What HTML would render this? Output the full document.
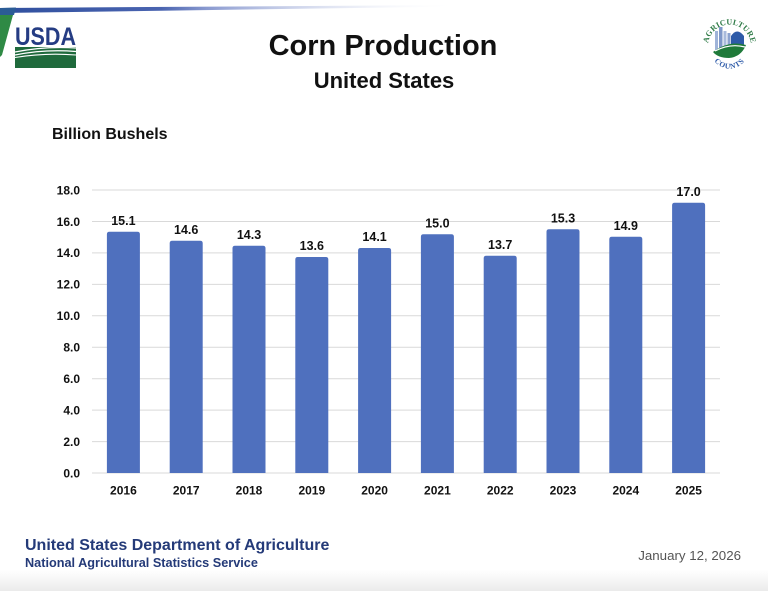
<!DOCTYPE html>
<html>
<head>
<meta charset="utf-8">
<style>
html,body{margin:0;padding:0;background:#fff;}
body{width:768px;height:591px;overflow:hidden;position:relative;font-family:"Liberation Sans",sans-serif;}
svg{position:absolute;left:0;top:0;}
</style>
</head>
<body>
<svg width="768" height="591" viewBox="0 0 768 591" xmlns="http://www.w3.org/2000/svg">
  <defs>
    <linearGradient id="topline" x1="0" y1="0" x2="1" y2="0">
      <stop offset="0" stop-color="#2f4f9e"/>
      <stop offset="0.35" stop-color="#4a64b0"/>
      <stop offset="0.45" stop-color="#8a9ad0"/>
      <stop offset="1" stop-color="#ffffff" stop-opacity="0"/>
    </linearGradient>
    <linearGradient id="botgrad" x1="0" y1="0" x2="0" y2="1">
      <stop offset="0" stop-color="#ffffff"/>
      <stop offset="1" stop-color="#ebebeb"/>
    </linearGradient>
    <path id="arcTop" d="M708,46 A21.5,21.5 0 0 1 751,46"/>
    <path id="arcBot" d="M711,54 A19,19 0 0 0 748,54"/>
  </defs>

  <!-- bottom gradient -->
  <rect x="0" y="570" width="768" height="21" fill="url(#botgrad)"/>

  <!-- top swoosh -->
  <polygon points="0,8 460,5 460,6.5 0,13" fill="url(#topline)"/>
  <polygon points="0,8 16,7.5 14,15 0,16" fill="#2b5c96"/>
  <polygon points="0,15 13,15 2,55 0,57" fill="#2f8a45"/>

  <!-- USDA logo -->
  <text x="15" y="45" font-family="Liberation Sans, sans-serif" font-weight="bold" font-size="25" fill="#253c83" textLength="61" lengthAdjust="spacingAndGlyphs">USDA</text>
  <rect x="15" y="47" width="61" height="21" fill="#1f6a3c"/>
  <path d="M15,52 Q45,46 76,48" stroke="#fff" stroke-width="1.3" fill="none"/>
  <path d="M15,55 Q45,49 76,51.5" stroke="#fff" stroke-width="1.3" fill="none"/>
  <path d="M15,57.5 Q45,52.5 76,55" stroke="#fff" stroke-width="1.1" fill="none"/>

  <!-- Agriculture Counts logo -->
  <circle cx="729" cy="41" r="16" fill="#ffffff"/>
  <rect x="715" y="31" width="3" height="19" fill="#9fb3d8"/>
  <rect x="719" y="27" width="3.5" height="23" fill="#7f98c9"/>
  <rect x="723.5" y="31" width="3" height="19" fill="#a9bbdc"/>
  <rect x="727.5" y="33" width="3" height="17" fill="#8ca3cf"/>
  <path d="M731,36 Q737,27 744,36 L744,49 L731,49 Z" fill="#2d5aa8"/>
  <path d="M713,52 Q729,40 746,45 Q741,57 729,58 Q718,58 713,52 Z" fill="#1f7a3a"/>
  <path d="M715,51 Q730,43 745,47" stroke="#fff" stroke-width="1.2" fill="none"/>
  <text font-family="Liberation Serif, serif" font-weight="bold" font-size="8" fill="#2d7a45" letter-spacing="0.2"><textPath href="#arcTop" startOffset="50%" text-anchor="middle">AGRICULTURE</textPath></text>
  <text font-family="Liberation Serif, serif" font-weight="bold" font-size="7.5" fill="#2d5aa8" letter-spacing="0.6"><textPath href="#arcBot" startOffset="50%" text-anchor="middle">COUNTS</textPath></text>

  <!-- Titles -->
  <text x="383" y="55" text-anchor="middle" font-weight="bold" font-size="29" fill="#111">Corn Production</text>
  <text x="384" y="88" text-anchor="middle" font-weight="bold" font-size="22" fill="#111">United States</text>
  <text x="52" y="139" font-weight="bold" font-size="16" fill="#111">Billion Bushels</text>

  <!-- gridlines -->
  <g stroke="#d9d9d9" stroke-width="1">
    <line x1="92" y1="473" x2="720" y2="473"/>
    <line x1="92" y1="441.6" x2="720" y2="441.6"/>
    <line x1="92" y1="410.1" x2="720" y2="410.1"/>
    <line x1="92" y1="378.7" x2="720" y2="378.7"/>
    <line x1="92" y1="347.2" x2="720" y2="347.2"/>
    <line x1="92" y1="315.8" x2="720" y2="315.8"/>
    <line x1="92" y1="284.4" x2="720" y2="284.4"/>
    <line x1="92" y1="252.9" x2="720" y2="252.9"/>
    <line x1="92" y1="221.5" x2="720" y2="221.5"/>
    <line x1="92" y1="190" x2="720" y2="190"/>
  </g>

  <!-- y labels -->
  <g font-weight="bold" font-size="12" fill="#111" text-anchor="end">
    <text x="80" y="477.3">0.0</text>
    <text x="80" y="445.9">2.0</text>
    <text x="80" y="414.4">4.0</text>
    <text x="80" y="383">6.0</text>
    <text x="80" y="351.5">8.0</text>
    <text x="80" y="320.1">10.0</text>
    <text x="80" y="288.7">12.0</text>
    <text x="80" y="257.2">14.0</text>
    <text x="80" y="225.8">16.0</text>
    <text x="80" y="194.3">18.0</text>
  </g>

  <!-- bars -->
  <g fill="#4f70be">
    <path d="M106.9,473 V234.2 Q106.9,231.7 109.4,231.7 H137.4 Q139.9,231.7 139.9,234.2 V473 Z"/>
    <path d="M169.7,473 V243.2 Q169.7,240.7 172.2,240.7 H200.2 Q202.7,240.7 202.7,243.2 V473 Z"/>
    <path d="M232.5,473 V248.2 Q232.5,245.7 235,245.7 H263 Q265.5,245.7 265.5,248.2 V473 Z"/>
    <path d="M295.3,473 V259.5 Q295.3,257 297.8,257 H325.8 Q328.3,257 328.3,259.5 V473 Z"/>
    <path d="M358.1,473 V250.5 Q358.1,248 360.6,248 H388.6 Q391.1,248 391.1,250.5 V473 Z"/>
    <path d="M420.9,473 V236.8 Q420.9,234.3 423.4,234.3 H451.4 Q453.9,234.3 453.9,236.8 V473 Z"/>
    <path d="M483.7,473 V258.2 Q483.7,255.7 486.2,255.7 H514.2 Q516.7,255.7 516.7,258.2 V473 Z"/>
    <path d="M546.5,473 V231.8 Q546.5,229.3 549,229.3 H577 Q579.5,229.3 579.5,231.8 V473 Z"/>
    <path d="M609.3,473 V239.2 Q609.3,236.7 611.8,236.7 H639.8 Q642.3,236.7 642.3,239.2 V473 Z"/>
    <path d="M672.1,473 V205.2 Q672.1,202.7 674.6,202.7 H702.6 Q705.1,202.7 705.1,205.2 V473 Z"/>
  </g>

  <!-- value labels -->
  <g font-weight="bold" font-size="12.5" fill="#111" text-anchor="middle">
    <text x="123.4" y="224.8">15.1</text>
    <text x="186.2" y="233.8">14.6</text>
    <text x="249" y="238.8">14.3</text>
    <text x="311.8" y="250.1">13.6</text>
    <text x="374.6" y="241.1">14.1</text>
    <text x="437.4" y="227.4">15.0</text>
    <text x="500.2" y="248.8">13.7</text>
    <text x="563" y="222.4">15.3</text>
    <text x="625.8" y="229.8">14.9</text>
    <text x="688.6" y="195.8">17.0</text>
  </g>

  <!-- x labels -->
  <g font-weight="bold" font-size="12" fill="#111" text-anchor="middle">
    <text x="123.4" y="494.5">2016</text>
    <text x="186.2" y="494.5">2017</text>
    <text x="249" y="494.5">2018</text>
    <text x="311.8" y="494.5">2019</text>
    <text x="374.6" y="494.5">2020</text>
    <text x="437.4" y="494.5">2021</text>
    <text x="500.2" y="494.5">2022</text>
    <text x="563" y="494.5">2023</text>
    <text x="625.8" y="494.5">2024</text>
    <text x="688.6" y="494.5">2025</text>
  </g>

  <!-- footer -->
  <text x="25" y="550" font-weight="bold" font-size="16" fill="#243a78">United States Department of Agriculture</text>
  <text x="25" y="567" font-weight="bold" font-size="12.7" fill="#243a78">National Agricultural Statistics Service</text>
  <text x="741" y="560" text-anchor="end" font-size="13.3" fill="#555">January 12, 2026</text>
</svg>
</body>
</html>
